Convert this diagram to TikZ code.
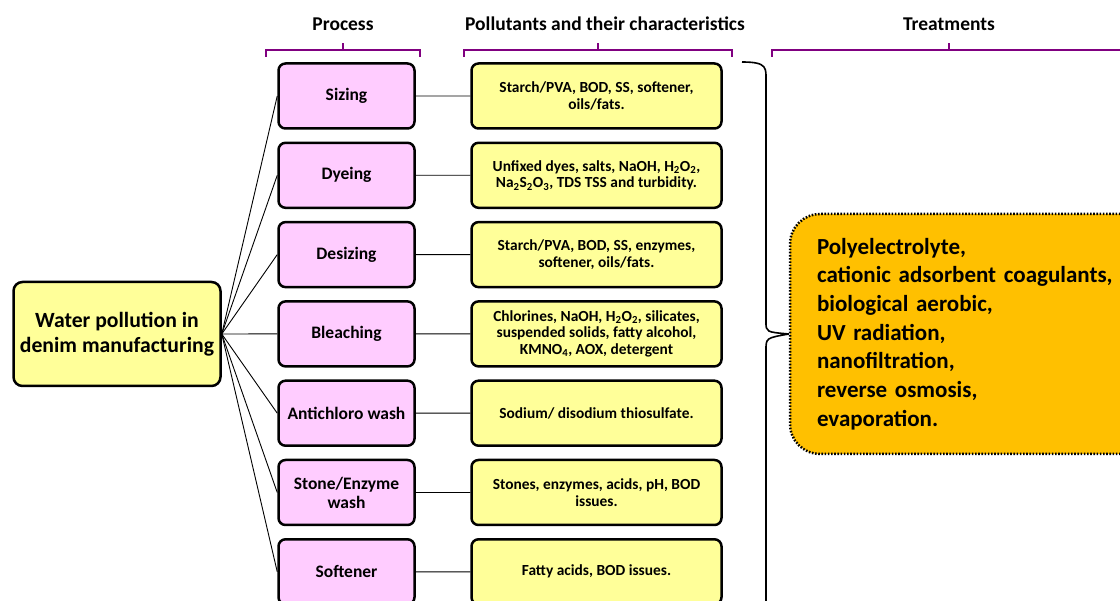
\documentclass[tikz,border=0pt]{standalone}
\usepackage{fontspec}
\setmainfont{Carlito}
\definecolor{procpink}{HTML}{FFCCFF}
\definecolor{pollyellow}{HTML}{FFFF99}
\definecolor{treatorange}{HTML}{FFC000}
\definecolor{bracketpurple}{HTML}{800080}
\begin{document}
\begin{tikzpicture}[x=1pt, y=-1pt,
    procbox/.style={draw, line width=2.5pt, rounded corners=7pt, fill=procpink,
      minimum width=136pt, minimum height=65pt, align=center,
      font=\fontsize{17.5}{19}\selectfont\bfseries},
    pollbox/.style={draw, line width=2.5pt, rounded corners=7pt, fill=pollyellow,
      minimum width=250pt, minimum height=65pt, align=center,
      font=\fontsize{15.4}{16.8}\selectfont\bfseries},
    heading/.style={font=\fontsize{19.5}{22}\selectfont\bfseries},
    bracket/.style={draw=bracketpurple, line width=2.5pt},
    link/.style={line width=0.9pt}]

    % Frame (picture is cut at the bottom and right)
    \useasboundingbox (0,0) rectangle (1120,601);
    \clip (0,0) rectangle (1120,601);

    % Headings and brackets
    \node[heading] (hproc) at (343,24) {Process};
    \node[heading] (hpoll) at (605,24) {Pollutants and their characteristics};
    \node[heading] (htreat) at (949,24) {Treatments};

    \draw[bracket] (266,57) -- (266,50) -- (420,50) -- (420,57) (343,50) -- (343,43);
    \draw[bracket] (464,57) -- (464,50) -- (732,50) -- (732,57) (598,50) -- (598,43);
    \draw[bracket] (772,57) -- (772,50) -- (1130,50) (949,50) -- (949,43);

    % Main topic
    \node[draw, line width=2.5pt, rounded corners=9pt, fill=pollyellow,
      minimum width=207pt, minimum height=104pt, align=center,
      font=\fontsize{21.7}{25}\selectfont\bfseries]
      (main) at (117,334) {Water pollution in\\denim manufacturing};

    % Processes
    \node[procbox] (sizing)     at (346.5,96)    {Sizing};
    \node[procbox] (dyeing)     at (346.5,175.3) {Dyeing};
    \node[procbox] (desizing)   at (346.5,254.6) {Desizing};
    \node[procbox] (bleaching)  at (346.5,333.9) {Bleaching};
    \node[procbox] (antichloro) at (346.5,413.2) {Antichloro wash};
    \node[procbox] (stone)      at (346.5,492.5) {Stone/Enzyme\\wash};
    \node[procbox] (softener)   at (346.5,571.8) {Softener};

    % Pollutants
    \node[pollbox] (sizingpol)     at (596.5,96)    {Starch/PVA, BOD, SS, softener,\\oils/fats.};
    \node[pollbox] (dyeingpol)     at (596.5,175.3) {Unfixed dyes, salts, NaOH, H\textsubscript{2}O\textsubscript{2},\\Na\textsubscript{2}S\textsubscript{2}O\textsubscript{3}, TDS TSS and turbidity.};
    \node[pollbox] (desizingpol)   at (596.5,254.6) {Starch/PVA, BOD, SS, enzymes,\\softener, oils/fats.};
    \node[pollbox] (bleachingpol)  at (596.5,333.9) {Chlorines, NaOH, H\textsubscript{2}O\textsubscript{2}, silicates,\\suspended solids, fatty alcohol,\\KMNO\textsubscript{4}, AOX, detergent};
    \node[pollbox] (antichloropol) at (596.5,413.2) {Sodium/ disodium thiosulfate.};
    \node[pollbox] (stonepol)      at (596.5,492.5) {Stones, enzymes, acids, pH, BOD\\issues.};
    \node[pollbox] (softenerpol)   at (596.5,571.8) {Fatty acids, BOD issues.};

    % Connectors
    \foreach \p in {sizing,dyeing,desizing,bleaching,antichloro,stone,softener}
      \draw[link] (main.east) -- (\p.west) (\p.east) -- (\p pol.west);

    % Treatments
    \node[draw, line width=2.5pt, dash pattern=on 1.6pt off 1.6pt, rounded corners=30pt,
      fill=treatorange, minimum width=370pt, minimum height=240pt,
      text width=316pt, inner xsep=27pt, align=left,
      font=\fontsize{23}{28.7}\selectfont\bfseries]
      (treat) at (975,334) {Polyelectrolyte,\\cationic adsorbent coagulants,\\biological aerobic,\\UV radiation,\\nanofiltration,\\reverse osmosis,\\evaporation.};

    % Brace
    \draw[line width=1.6pt] (742,62) .. controls (768,62) and (766,68) .. (766,82)
      -- (766,322) .. controls (766,332) .. (treat.west)
      (treat.west) .. controls (766,338) .. (766,350) -- (766,620);

\end{tikzpicture}
\end{document}
